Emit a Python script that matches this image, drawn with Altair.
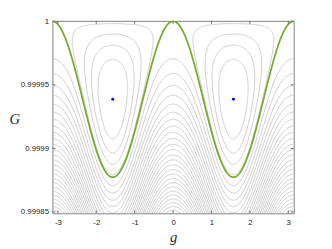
import numpy as np
import pandas as pd
import altair as alt

# ---- values ----
g_domain = [-3.14159265, 3.14159265]
G_domain = [0.999849, 1.0000003]
x_ticks = [-3, -2, -1, 0, 1, 2, 3]
y_ticks = [0.99985, 0.9999, 0.99995, 1]
fixed_g = [-1.5708, 1.5708]
fixed_G = [0.9999387, 0.9999387]
# contour levels (in units of the fixed-point energy; separatrix = 0)
libration_levels = [0.06, 0.30, 0.52, 0.74]
circulation_levels = [-0.23, -0.45, -0.68, -0.90, -1.13, -1.36, -1.58, -1.81, -2.03,
                      -2.26, -2.49, -2.71, -2.94, -3.16, -3.39, -3.62, -3.84, -4.07,
                      -4.29, -4.52, -4.75, -4.97, -5.20, -5.42, -5.65, -5.88, -6.10]

# ---- contour geometry: H = u (2 sin^2 g - u), G = 1 - x0 u ----
x0 = 1 - fixed_G[0]
rows = []
cid = 0
g = np.linspace(-np.pi, np.pi, 361)
s = np.sin(g) ** 2
for H in circulation_levels:
    u = s + np.sqrt(s ** 2 - H)
    for i, (gi, ui) in enumerate(zip(g, u)):
        rows.append((round(float(gi), 5), round(float(1 - x0 * ui), 11), f"c{cid}", i))
    cid += 1
for H in libration_levels:
    ga = np.arcsin(H ** 0.25)
    t = np.linspace(0, np.pi, 121)
    gg = np.pi / 2 - (np.pi / 2 - ga) * np.cos(t)
    ss = np.sin(gg) ** 2
    d = np.sqrt(np.clip(ss ** 2 - H, 0, None))
    gl = np.concatenate([gg, gg[::-1]])
    ul = np.concatenate([ss - d, (ss + d)[::-1]])
    for sign in (1, -1):
        for i, (gi, ui) in enumerate(zip(gl, ul)):
            rows.append((round(float(sign * gi), 5), round(float(1 - x0 * ui), 11), f"c{cid}", i))
        cid += 1
gray = pd.DataFrame(rows, columns=["g", "G", "c", "i"])

gs = np.linspace(-np.pi, np.pi, 721)
sep = pd.DataFrame({"g": gs, "G": 1 - x0 * 2 * np.sin(gs) ** 2, "i": np.arange(len(gs))})
pts = pd.DataFrame({"g": fixed_g, "G": fixed_G})
xt = pd.DataFrame({"v": x_ticks})
yt = pd.DataFrame({"v": y_ticks})

W, Hh = 247, 197
xs = alt.Scale(domain=g_domain, nice=False, zero=False)
ys = alt.Scale(domain=G_domain, nice=False, zero=False)

xaxis = alt.Axis(values=x_ticks, labelExpr="'' + datum.value", ticks=False, domain=False,
                 grid=False, labelFont="Liberation Sans", labelFontSize=8, labelColor="#262626",
                 labelPadding=5, title="g", titleFont="Liberation Serif", titleFontStyle="italic",
                 titleFontWeight="normal", titleFontSize=15, titleColor="#262626", titlePadding=4)
yaxis = alt.Axis(values=y_ticks, labelExpr="datum.value == 1 ? '1' : format(datum.value, '.5~f')",
                 ticks=False, domain=False, grid=False, labelFont="Liberation Sans", labelFontSize=8,
                 labelColor="#262626", labelPadding=4, title="G", titleFont="Liberation Serif",
                 titleFontStyle="italic", titleFontWeight="normal", titleFontSize=15,
                 titleColor="#262626", titleAngle=0, titleAlign="center", titleBaseline="middle",
                 titleX=-39, titleY=100)

base_gray = alt.Chart(gray).mark_line(color="#c8c8c8", strokeWidth=0.9, clip=True).encode(
    x=alt.X("g:Q", scale=xs, axis=xaxis),
    y=alt.Y("G:Q", scale=ys, axis=yaxis),
    detail="c:N",
    order="i:Q",
)
green = alt.Chart(sep).mark_line(color="#77AC30", strokeWidth=1.8, clip=True).encode(
    x=alt.X("g:Q", scale=xs), y=alt.Y("G:Q", scale=ys), order="i:Q")
dots = alt.Chart(pts).mark_point(filled=True, color="#0000ff", size=9, opacity=1).encode(
    x=alt.X("g:Q", scale=xs), y=alt.Y("G:Q", scale=ys))

tk = "#707070"
tb = alt.Chart(xt).mark_rule(color=tk, strokeWidth=1).encode(
    x=alt.X("v:Q", scale=xs), y=alt.value(Hh), y2=alt.value(Hh - 3))
tt = alt.Chart(xt).mark_rule(color=tk, strokeWidth=1).encode(
    x=alt.X("v:Q", scale=xs), y=alt.value(0), y2=alt.value(3))
tl = alt.Chart(yt).mark_rule(color=tk, strokeWidth=1).encode(
    y=alt.Y("v:Q", scale=ys), x=alt.value(0), x2=alt.value(3))
tr = alt.Chart(yt).mark_rule(color=tk, strokeWidth=1).encode(
    y=alt.Y("v:Q", scale=ys), x=alt.value(W), x2=alt.value(W - 3))

chart = alt.layer(base_gray, green, dots, tb, tt, tl, tr).properties(
    width=W, height=Hh,
    autosize=alt.AutoSizeParams(type="none"),
    padding={"left": 45.5, "top": 10.3, "right": 31, "bottom": 34},
    background="white",
).configure_view(stroke="#808080", strokeWidth=1)

chart.save("out.html", embed_options={"renderer": "svg", "actions": False})
